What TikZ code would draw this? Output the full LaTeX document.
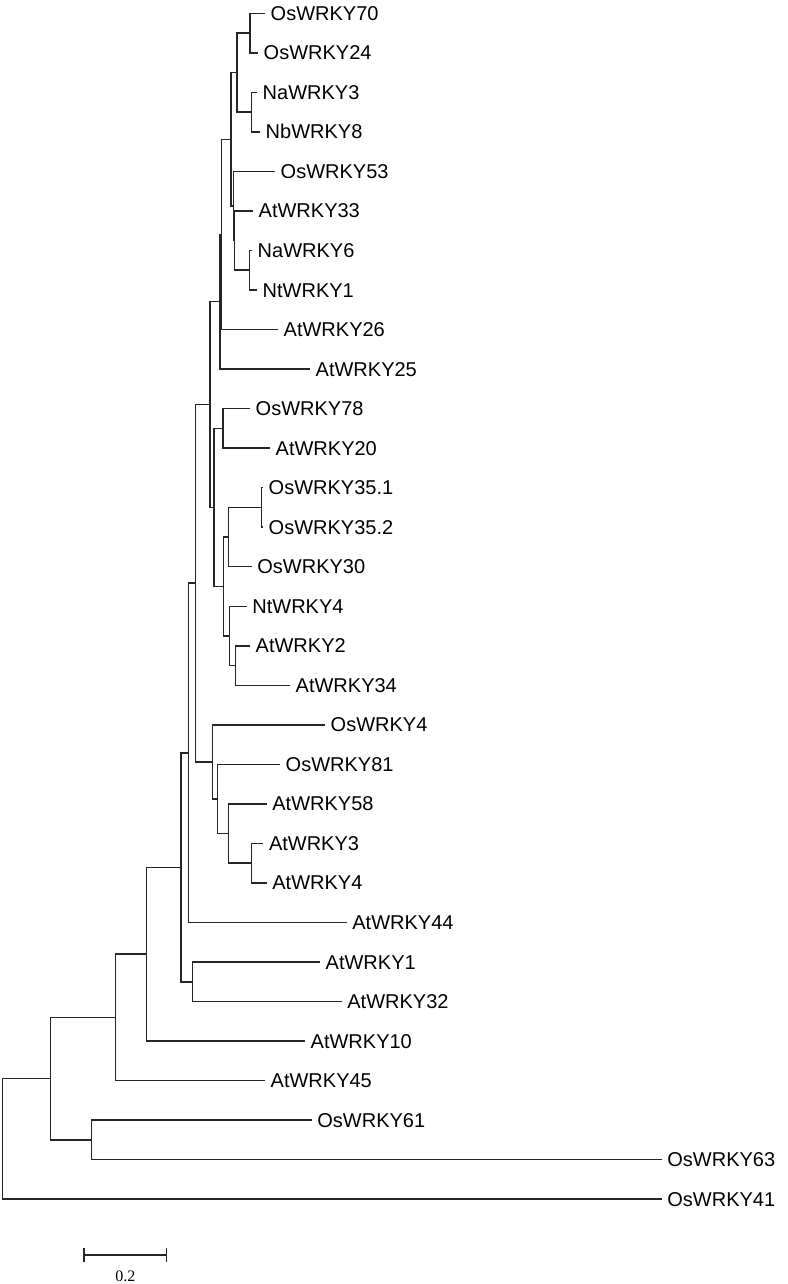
\documentclass[tikz,border=0pt]{standalone}
\usepackage{fontspec}
\setmainfont{Liberation Sans}
\newfontfamily\sbfont{Liberation Serif}
\usetikzlibrary{calc}
\newcommand\leafnode[4]{\node[leaf] (#1) at (#3,{13.3+39.53*#2}) {#4};}
\newcommand\innode[4]{%
  \path ($(#3)!0.5!(#4)$) coordinate (tmp);
  \coordinate (#1) at (#2,0 |- tmp);
  \draw[branch] (#1) |- (#3);
  \draw[branch] (#1) |- (#4);}
\begin{document}
\begin{tikzpicture}[x=1pt,y=-1pt,
  branch/.style={draw=black!85,line width=1.5pt},
  leaf/.style={anchor=west,inner xsep=5.5pt,inner ysep=0pt,
    font=\fontsize{20}{20}\selectfont,text height=14pt,text depth=0pt}]
\useasboundingbox (0,0) rectangle (787,1284);
% leaves
\leafnode{L0}{0}{265}{OsWRKY70}
\leafnode{L1}{1}{258}{OsWRKY24}
\leafnode{L2}{2}{257}{NaWRKY3}
\leafnode{L3}{3}{260}{NbWRKY8}
\leafnode{L4}{4}{275}{OsWRKY53}
\leafnode{L5}{5}{253}{AtWRKY33}
\leafnode{L6}{6}{252}{NaWRKY6}
\leafnode{L7}{7}{257}{NtWRKY1}
\leafnode{L8}{8}{278}{AtWRKY26}
\leafnode{L9}{9}{310}{AtWRKY25}
\leafnode{L10}{10}{250}{OsWRKY78}
\leafnode{L11}{11}{270}{AtWRKY20}
\leafnode{L12}{12}{263}{OsWRKY35.1}
\leafnode{L13}{13}{263}{OsWRKY35.2}
\leafnode{L14}{14}{251.7}{OsWRKY30}
\leafnode{L15}{15}{246.7}{NtWRKY4}
\leafnode{L16}{16}{250}{AtWRKY2}
\leafnode{L17}{17}{290}{AtWRKY34}
\leafnode{L18}{18}{325}{OsWRKY4}
\leafnode{L19}{19}{280}{OsWRKY81}
\leafnode{L20}{20}{266.7}{AtWRKY58}
\leafnode{L21}{21}{263.3}{AtWRKY3}
\leafnode{L22}{22}{266.7}{AtWRKY4}
\leafnode{L23}{23}{346.7}{AtWRKY44}
\leafnode{L24}{24}{320}{AtWRKY1}
\leafnode{L25}{25}{341.7}{AtWRKY32}
\leafnode{L26}{26}{305}{AtWRKY10}
\leafnode{L27}{27}{265}{AtWRKY45}
\leafnode{L28}{28}{311.7}{OsWRKY61}
\leafnode{L29}{29}{661.7}{OsWRKY63}
\leafnode{L30}{30}{661.7}{OsWRKY41}
% internal nodes
\innode{n1}{250}{L0.west}{L1.west}
\innode{n2}{251.7}{L2.west}{L3.west}
\innode{T}{237}{n1}{n2}
\innode{U}{249.3}{L6.west}{L7.west}
\innode{V}{234.3}{L5.west}{U}
\innode{W}{233.3}{L4.west}{V}
\innode{Z}{231}{T}{W}
\innode{X}{221.7}{Z}{L8.west}
\innode{Y}{220}{X}{L9.west}
\innode{n78}{223}{L10.west}{L11.west}
\innode{n35}{261.7}{L12.west}{L13.west}
\innode{n30}{228.3}{n35}{L14.west}
\innode{n2b}{235.7}{L16.west}{L17.west}
\innode{n4}{229.3}{L15.west}{n2b}
\innode{n24}{223.3}{n30}{n4}
\innode{n214}{214}{n78}{n24}
\innode{n210}{210}{Y}{n214}
\innode{n3}{251.7}{L21.west}{L22.west}
\innode{n58}{228.3}{L20.west}{n3}
\innode{n81}{217.7}{L19.west}{n58}
\innode{nO4}{212.7}{L18.west}{n81}
\innode{n195}{195.7}{n210}{nO4}
\innode{n44}{188.3}{n195}{L23.west}
\innode{n1b}{192.7}{L24.west}{L25.west}
\innode{n181}{181}{n44}{n1b}
\innode{n10}{146.7}{n181}{L26.west}
\innode{n45}{115.7}{n10}{L27.west}
\innode{n61}{91.7}{L28.west}{L29.west}
\innode{n50}{50.7}{n45}{n61}
\innode{root}{2.7}{n50}{L30.west}
% scale bar
\coordinate (sbA) at (84,1255);
\coordinate (sbB) at (166.7,1255);
\draw[branch] (sbA) -- (sbB);
\draw[branch] ([yshift=-7pt]sbA) -- ([yshift=7pt]sbA);
\draw[branch] ([yshift=-7pt]sbB) -- ([yshift=7pt]sbB);
\node[font=\sbfont\fontsize{16}{16}\selectfont,inner sep=0pt] (sblabel) at ($(sbA)!0.5!(sbB)+(0,21)$) {0.2};
\end{tikzpicture}
\end{document}
